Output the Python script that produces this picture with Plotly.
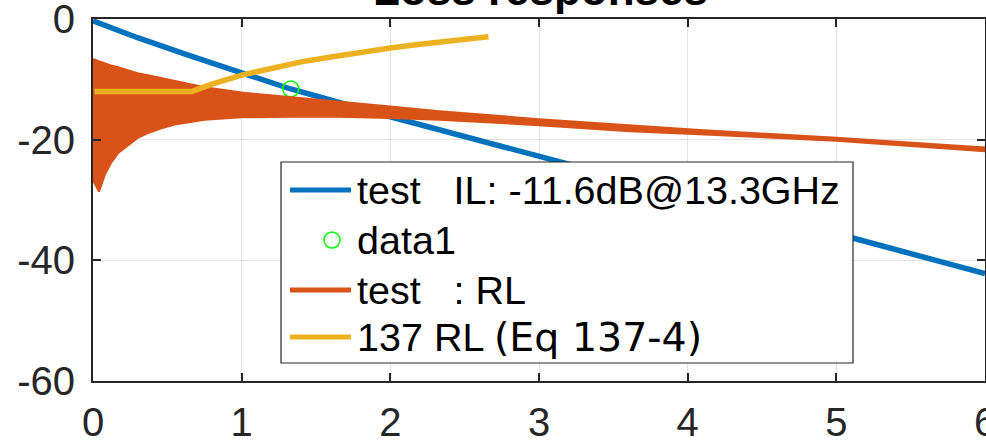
import plotly.graph_objects as go

# ---- data (x in units of 1e10 Hz, y in dB) ----
il_f = [0.0, 0.3, 0.64, 1.0, 1.33, 2.0, 2.33, 3.0, 3.5, 4.0, 4.5, 5.11, 6.0]
il_db = [-0.3, -3.1, -6.0, -9.0, -11.6, -16.2, -18.4, -22.8, -26.0, -29.3, -32.5, -36.3, -42.2]

mark_f = [1.33]
mark_db = [-11.6]

rl_f = [0.0, 0.01, 0.04, 0.08, 0.12, 0.17, 0.21, 0.26, 0.30, 0.37, 0.46, 0.55, 0.64,
        0.75, 1.0, 1.33, 1.66, 2.0, 2.33, 3.0, 3.61, 4.08, 5.0, 6.0]
rl_upper = [-6.7, -6.7, -7.0, -7.4, -7.7, -8.0, -8.3, -8.7, -9.0, -9.3, -9.8, -10.3, -10.8,
            -11.3, -12.2, -12.9, -13.7, -14.5, -15.3, -16.6, -17.6, -18.4, -19.7, -21.3]
rl_lower = [-26.7, -27.0, -28.6, -25.8, -23.9, -22.2, -21.4, -20.5, -19.7, -18.9, -18.1, -17.5, -17.2,
            -16.7, -16.3, -16.2, -16.2, -16.4, -16.7, -17.6, -18.6, -19.1, -20.2, -21.9]

eq_f = [0.01, 0.667, 0.8, 1.0, 1.2, 1.4, 1.6, 1.8, 2.0, 2.2, 2.4, 2.66]
eq_db = [-12.0, -12.0, -10.8, -9.3, -8.2, -7.1, -6.3, -5.5, -4.8, -4.2, -3.6, -2.95]

x_ticks = [0, 1, 2, 3, 4, 5, 6]
x_labels = ["0", "1", "2", "3", "4", "5", "6"]
y_ticks = [0, -20, -40, -60]
y_labels = ["0", "-20", "-40", "-60"]

title_text = "Loss responses"
legend_labels = [
    "test\u00a0\u00a0\u00a0IL: -11.6dB@13.3GHz",
    "data1",
    "test\u00a0\u00a0\u00a0: RL",
    "137 RL <span style=\"font-family:'DejaVu Sans'\">(Eq 137-4)</span>",
]

BLUE = "#0072BD"
ORANGE = "#D95319"
YELLOW = "#EDB120"
GREEN = "#00FF00"
AXC = "#262626"
FONT = "Liberation Sans, Arial, Helvetica, sans-serif"

W, H = 986, 443
L, R, T, B = 93, 985, 19, 381


def px(xp):
    return (xp - L) / (R - L)


def py(yp):
    return 1 - (yp - T) / (B - T)


fig = go.Figure()
fig.add_trace(go.Scatter(x=il_f, y=il_db, mode="lines",
                         line=dict(color=BLUE, width=5.5), showlegend=False))
fig.add_trace(go.Scatter(x=mark_f, y=mark_db, mode="markers",
                         marker=dict(symbol="circle-open", size=16, color=GREEN,
                                     line=dict(width=1.5, color=GREEN)),
                         showlegend=False))
fig.add_trace(go.Scatter(x=rl_f + rl_f[::-1], y=rl_upper + rl_lower[::-1],
                         mode="lines", fill="toself", fillcolor=ORANGE,
                         line=dict(color=ORANGE, width=2), showlegend=False))
fig.add_trace(go.Scatter(x=eq_f, y=eq_db, mode="lines",
                         line=dict(color=YELLOW, width=5.5), showlegend=False))

axis_common = dict(showline=True, linecolor=AXC, linewidth=1.8, mirror="ticks",
                   ticks="inside", ticklen=8, tickwidth=1.5, tickcolor=AXC,
                   showgrid=True, gridcolor="#e2e2e2", gridwidth=1, zeroline=False,
                   automargin=False, ticklabeloverflow="allow",
                   tickfont=dict(family=FONT, size=40, color=AXC))

fig.update_xaxes(range=[0, 6], tickvals=x_ticks, ticktext=x_labels,
                 ticklabelstandoff=5, **axis_common)
fig.update_yaxes(range=[-60, 0], tickvals=y_ticks, ticktext=y_labels,
                 ticklabelstandoff=8, **axis_common)

# ---- legend drawn manually ----
shapes = [dict(type="rect", xref="paper", yref="paper",
               x0=px(281), x1=px(853), y0=py(363), y1=py(162),
               fillcolor="white", line=dict(color=AXC, width=1.2), layer="above")]
rows = [190, 240, 290, 337]
sample_colors = [BLUE, None, ORANGE, YELLOW]
for yc, c in zip(rows, sample_colors):
    if c is not None:
        shapes.append(dict(type="line", xref="paper", yref="paper",
                           x0=px(290), x1=px(351), y0=py(yc), y1=py(yc),
                           line=dict(color=c, width=5), layer="above"))
shapes.append(dict(type="circle", xref="paper", yref="paper",
                   x0=px(332 - 8), x1=px(332 + 8), y0=py(rows[1] + 8), y1=py(rows[1] - 8),
                   line=dict(color=GREEN, width=1.5), layer="above"))

annotations = []
for yc, lab in zip(rows, legend_labels):
    annotations.append(dict(text=lab, xref="paper", yref="paper", x=px(355), y=py(yc),
                            xanchor="left", yanchor="middle", showarrow=False,
                            font=dict(family=FONT, size=39.5, color="black")))
annotations.append(dict(text="<b>" + title_text + "</b>", xref="paper", yref="paper",
                        x=px(540), y=py(16), xanchor="center", yanchor="bottom",
                        showarrow=False, font=dict(family=FONT, size=44, color="black")))

fig.update_layout(width=W, height=H, margin=dict(l=L, r=W - R, t=T, b=H - B),
                  paper_bgcolor="white", plot_bgcolor="white",
                  shapes=shapes, annotations=annotations, showlegend=False)

fig.write_html("out.html", config={"displayModeBar": False},
               post_script="document.body.style.margin='0';document.body.style.overflow='hidden';")
